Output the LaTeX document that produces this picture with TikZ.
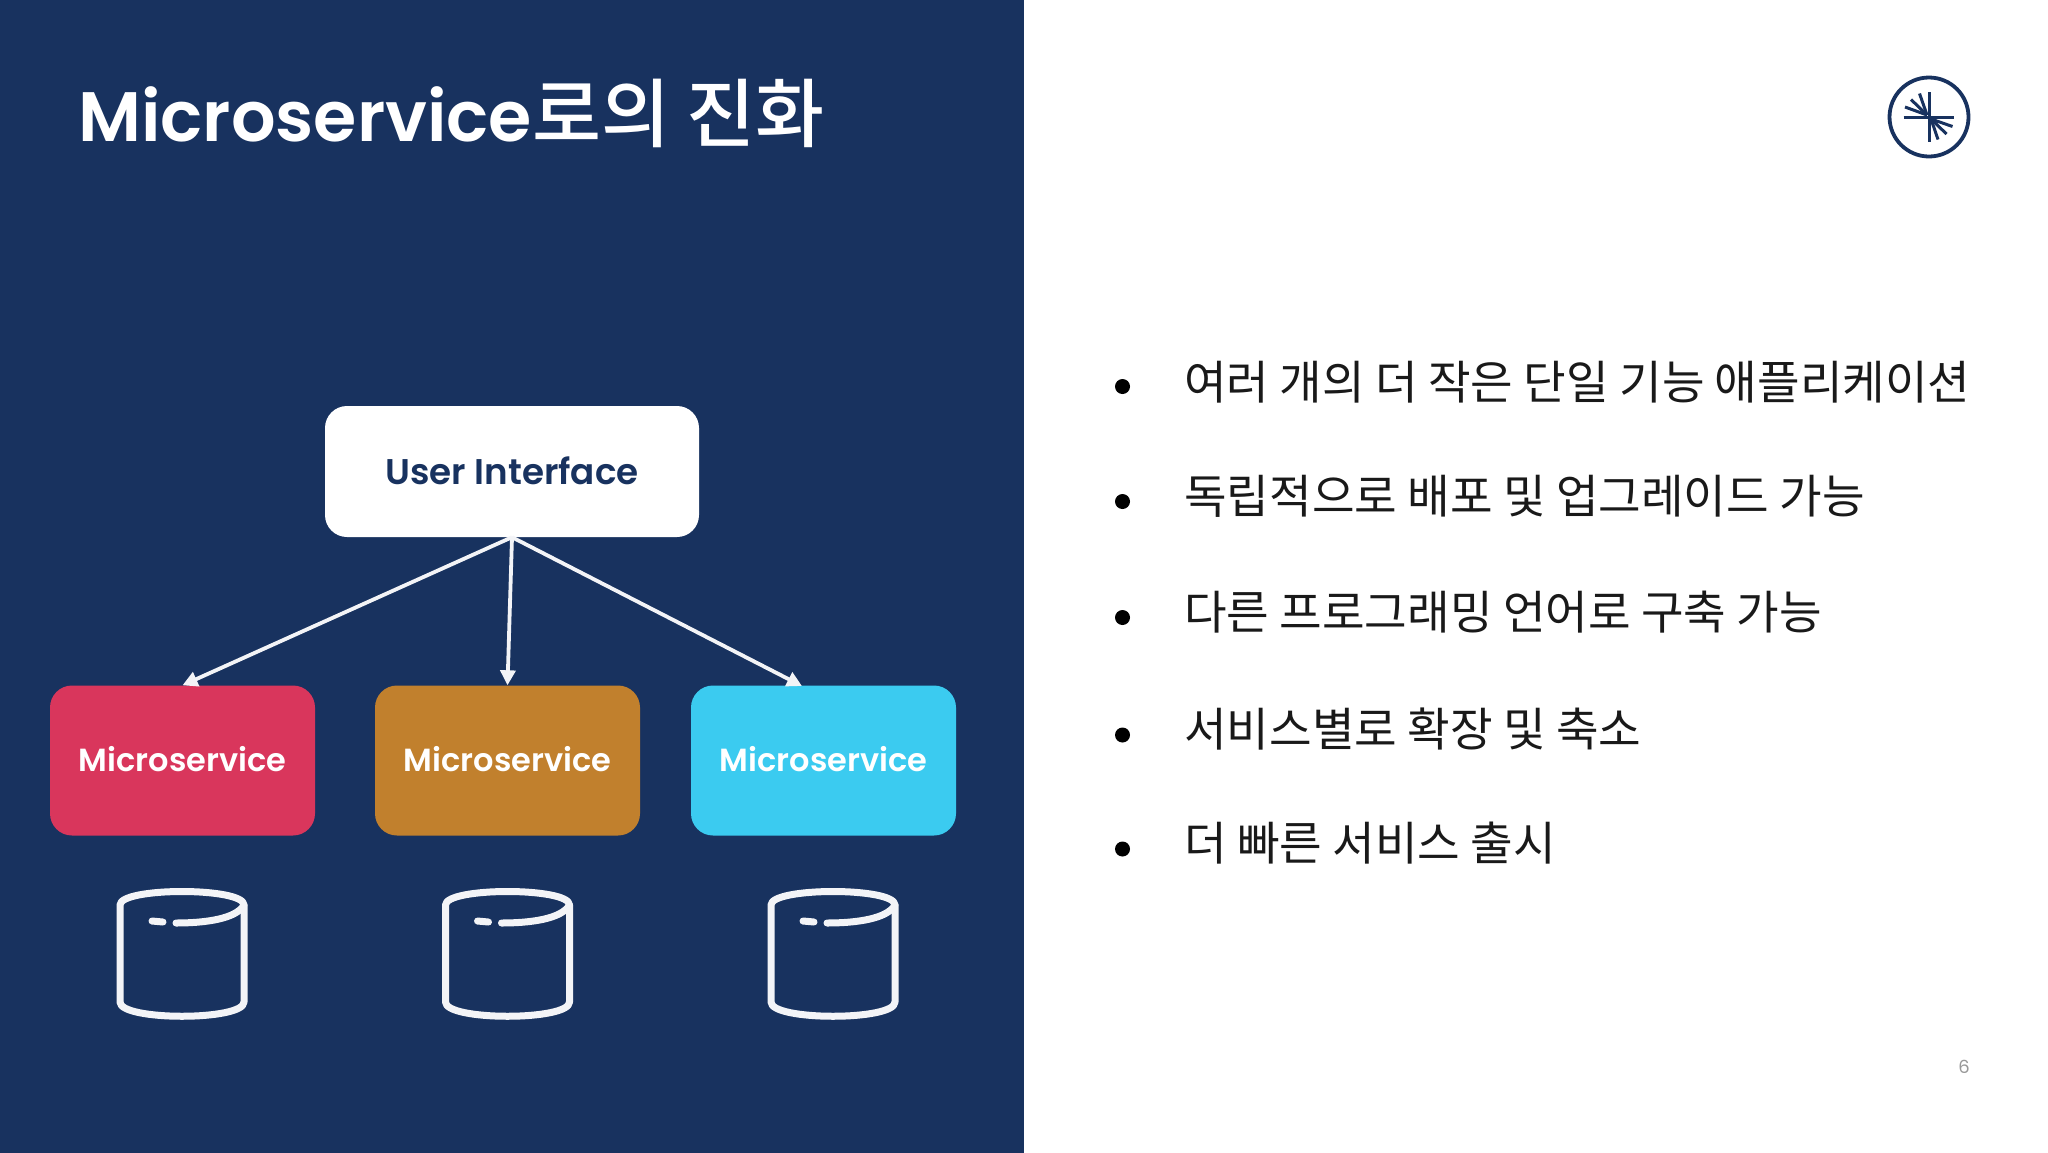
\documentclass[tikz,border=0pt]{standalone}
\usepackage{fontspec}
\setmainfont{Poppins}
\newfontfamily\krfont{Noto Sans CJK KR}
\newfontfamily\krbold{Noto Sans CJK KR Medium}
\newfontfamily\popsb{Poppins SemiBold}
\usetikzlibrary{arrows.meta}
\definecolor{navy}{HTML}{18325F}
\definecolor{rosered}{HTML}{D9365C}
\definecolor{gold}{HTML}{C1802D}
\definecolor{skyb}{HTML}{3BCBF0}
\definecolor{rimw}{HTML}{F3F4F7}
\tikzset{
  x=1pt,y=-1pt,
  svc/.style={rounded corners=22pt,minimum width=265pt,minimum height=150pt,inner sep=0pt,text=white,font=\popsb\fontsize{32}{34}\selectfont},
  uibox/.style={rounded corners=22pt,fill=white,minimum width=374pt,minimum height=131pt,inner sep=0pt,text=navy,font=\popsb\fontsize{35.7}{38}\selectfont},
  flow/.style={draw=rimw,line width=3.8pt,-{Triangle[length=15pt,width=15pt]}},
  cyl/.style={draw=rimw,line width=7pt,line cap=round,line join=round},
  bul/.style={circle,fill=black,minimum size=15pt,inner sep=0pt},
  item/.style={anchor=west,inner sep=0pt,text=black!90,font=\krfont\fontsize{46.3}{50}\selectfont},
  ray/.style={draw=navy,line width=3pt}
}
\newcommand{\dbicon}[1]{%
  \begin{scope}[shift={(#1,0)}]
    \path[cyl] (120,905) .. controls (120,887) and (244,887) .. (244,905)
      -- (244,1002) .. controls (244,1021) and (120,1021) .. (120,1002) -- cycle;
    \path[cyl] (244,905) .. controls (236,919) and (205,923) .. (176,923);
    \path[cyl] (152,921) -- (163,922);
  \end{scope}}
\begin{document}
\begin{tikzpicture}
\useasboundingbox (0,0) rectangle (2048,1152);
\fill[white] (0,0) rectangle (2060,1160);
\fill[navy] (0,0) rectangle (1024,1160);
\node[anchor=base west,inner sep=0pt,text=white] (title) at (78,141.5) {\popsb\fontsize{70}{75}\selectfont Microservice{\krbold\fontsize{75}{75}\selectfont 로의 진화}};
\node[uibox] (ui) at (512,471.5) {\raisebox{2pt}{User Interface}};
\node[svc,fill=rosered] (s1) at (182.5,760.5) {\raisebox{3pt}{Microservice}};
\node[svc,fill=gold] (s2) at (507.5,760.5) {\raisebox{3pt}{Microservice}};
\node[svc,fill=skyb] (s3) at (823.5,760.5) {\raisebox{3pt}{Microservice}};
\coordinate (t3) at (802,686);
\draw[flow] (ui.south) -- (s1.north);
\draw[flow] (ui.south) -- (s2.north);
\draw[flow] (ui.south) -- (t3);
\dbicon{0}
\dbicon{325.5}
\dbicon{651}
% logo
\draw[navy,line width=3.8pt] (1929,117) circle (39.5);
\path[ray] (1903.5,117) -- (1954,117);
\path[ray] (1929,92) -- (1929,142);
\foreach \a/\b in {1905/107,1911/99.5,1919.5/93.5}{\path[ray] (1927,115) -- (\a,\b);}
\foreach \a/\b in {1952.5/126.5,1946.5/134,1938/139.5}{\path[ray] (1931,119) -- (\a,\b);}
\node[bul] (b1) at (1122.5,386.5) {};
\node[bul] (b2) at (1122.5,501.5) {};
\node[bul] (b3) at (1122.5,617.5) {};
\node[bul] (b4) at (1122.5,735) {};
\node[bul] (b5) at (1122.5,849) {};
\node[item] (i1) at (1184,382.5) {여러 개의 더 작은 단일 기능 애플리케이션};
\node[item] (i2) at (1184,496) {독립적으로 배포 및 업그레이드 가능};
\node[item] (i3) at (1184,612) {다른 프로그래밍 언어로 구축 가능};
\node[item] (i4) at (1184,729) {서비스별로 확장 및 축소};
\node[item] (i5) at (1184,843) {더 빠른 서비스 출시};
\node[text=black!40,inner sep=0pt,font=\fontsize{18}{20}\selectfont] (pg) at (1964,1067) {6};
\end{tikzpicture}
\end{document}
